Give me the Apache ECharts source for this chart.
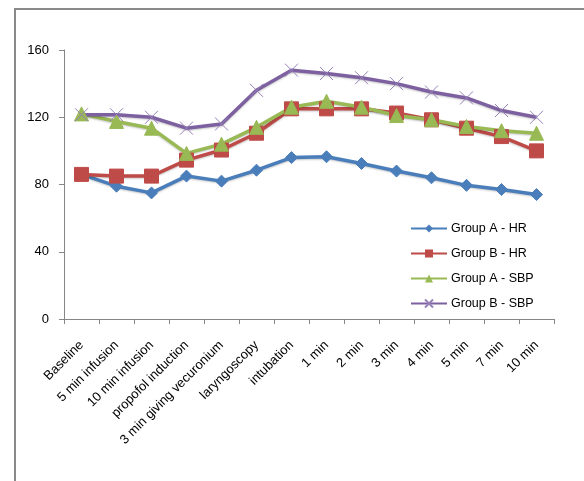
<!DOCTYPE html>
<html>
<head>
<meta charset="utf-8">
<script src="https://cdn.jsdelivr.net/npm/echarts@6/dist/echarts.min.js"></script>
<style>
  html, body { margin: 0; padding: 0; background: #fff; }
  #chart { width: 584px; height: 481px; }
</style>
</head>
<body>
<div id="chart"></div>
<script>
// Time points of measurement
const categories = ['Baseline', '5 min infusion', '10 min infusion', 'propofol induction',
  '3 min giving vecuronium', 'laryngoscopy', 'intubation', '1 min', '2 min', '3 min',
  '4 min', '5 min', '7 min', '10 min'];

// Heart rate and systolic blood pressure per group
const groupAHR  = [86, 79, 75, 85, 82, 88.5, 96, 96.5, 92.5, 88, 84, 79.5, 77, 74];
const groupBHR  = [86, 85, 85, 94.5, 100.5, 110.5, 125, 125, 125, 122.5, 118.5, 113.5, 108.5, 100];
const groupASBP = [122, 117.5, 113.5, 98.5, 104, 114, 126, 129.5, 126, 121, 118.5, 114.5, 112, 110.5];
const groupBSBP = [121.5, 121.5, 120, 113.5, 116, 136, 148, 146, 143.5, 140, 135, 131.5, 124, 120];

const yTicks = [0, 40, 80, 120, 160];

const font = '"Liberation Sans", Arial, sans-serif';
const crossPath = 'path://M0,0L10,10M10,0L0,10';

function lineSeries(name, data, color, symbol, size, extra) {
  return Object.assign({
    name: name,
    type: 'line',
    data: data,
    symbol: symbol,
    symbolSize: size,
    lineStyle: { color: color, width: 3.5, shadowColor: 'rgba(0,0,0,0.22)', shadowBlur: 2, shadowOffsetY: 1 },
    itemStyle: { color: color, borderColor: color },
    emphasis: { disabled: true },
    animation: false
  }, extra || {});
}

const chart = echarts.init(document.getElementById('chart'));
chart.setOption({
  backgroundColor: '#fff',
  textStyle: { fontFamily: font },
  grid: { left: 64, top: 50, width: 490, height: 269 },
  legend: {
    orient: 'vertical',
    left: 405,
    top: 217,
    itemGap: 12,
    itemWidth: 36,
    itemHeight: 10,
    textStyle: { fontFamily: font, fontSize: 12.5, color: '#000', padding: [0, 0, 0, -1] },
    data: ['Group A - HR', 'Group B - HR', 'Group A - SBP', 'Group B - SBP']
  },
  xAxis: {
    type: 'category',
    data: categories,
    boundaryGap: true,
    axisLine: { lineStyle: { color: '#868686', width: 1 } },
    axisTick: { show: true, length: 5, alignWithLabel: false, lineStyle: { color: '#868686' } },
    axisLabel: {
      rotate: 45, interval: 0, margin: 24,
      fontFamily: font, fontSize: 13, color: '#000'
    },
    splitLine: { show: false }
  },
  yAxis: {
    type: 'value',
    min: yTicks[0],
    max: yTicks[yTicks.length - 1],
    interval: 40,
    axisLine: { show: true, lineStyle: { color: '#868686', width: 1 } },
    axisTick: { show: true, length: 5, inside: false, lineStyle: { color: '#868686' } },
    axisLabel: { fontFamily: font, fontSize: 13, color: '#000', margin: 15 },
    splitLine: { show: false }
  },
  graphic: [
    {
      type: 'polyline',
      shape: { points: [[15, 481], [15, 9], [584, 9]] },
      style: { stroke: '#8a8a8a', lineWidth: 2, fill: null },
      silent: true
    }
  ],
  series: [
    lineSeries('Group A - HR', groupAHR, '#4a7ebb', 'diamond', 12),
    lineSeries('Group B - HR', groupBHR, '#be4b48', 'rect', 14),
    lineSeries('Group A - SBP', groupASBP, '#98b954', 'triangle', 14),
    lineSeries('Group B - SBP', groupBSBP, '#7d60a0', crossPath, 13, {
      itemStyle: { color: 'none', borderColor: '#9580b8', borderWidth: 1 }
    })
  ]
});
</script>
</body>
</html>
